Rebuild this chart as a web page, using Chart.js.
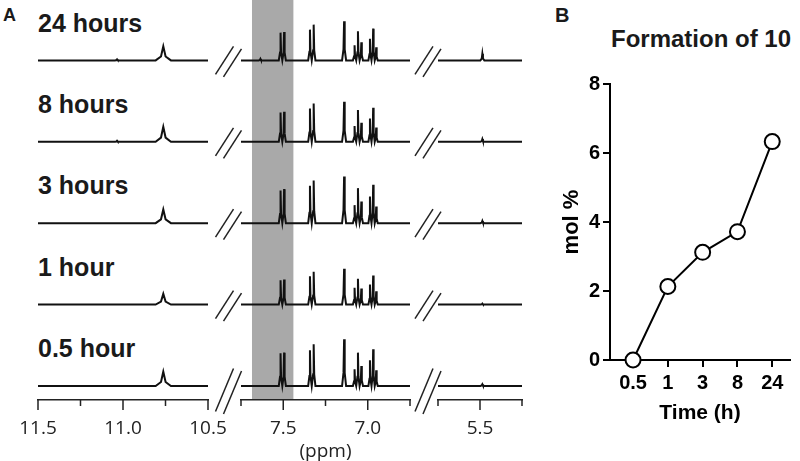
<!DOCTYPE html>
<html>
<head>
<meta charset="utf-8">
<script src="https://cdn.jsdelivr.net/npm/chart.js@4.4.0/dist/chart.umd.min.js"></script>
<style>
body { margin: 0; width: 800px; height: 461px; overflow: hidden; background: #fff; position: relative; font-family: "Liberation Sans", Arial, sans-serif; }
canvas { position: absolute; }
.lbl { position: absolute; font-weight: bold; font-size: 25px; line-height: 25px; color: #1a1a1a; white-space: nowrap; }
</style>
</head>
<body>
<div class="lbl" style="left:3px;top:6px;font-size:18px;line-height:18px">A</div>
<div class="lbl" style="left:555px;top:5px;font-size:20px;line-height:20px">B</div>
<div class="lbl" style="left:601px;top:27px;width:200px;text-align:center;font-size:24px;line-height:24px">Formation of 10</div>
<div id="traceNames"></div>

<canvas id="seg1" width="242" height="478" style="left:2px;top:-7px"></canvas>
<canvas id="seg2" width="241" height="478" style="left:205px;top:-7px"></canvas>
<canvas id="seg3" width="156" height="478" style="left:402px;top:-7px"></canvas>
<canvas id="molChart" width="260" height="461" style="left:540px;top:0px"></canvas>

<script>
// ---- panel A: 1H NMR, traces listed top to bottom ----
var traceLabels = ['24 hours', '8 hours', '3 hours', '1 hour', '0.5 hour'];

// peak positions (ppm)
var nhPeaks = [11.035, 10.763];
var aromaticPeaks = [7.635, 7.516, 7.495, 7.342, 7.320, 7.140, 7.078, 7.058, 7.038, 6.987, 6.968, 6.950];
var vinylPeaks = [5.486];

// base half widths of the peaks (ppm)
var nhWidths = [0.012, 0.045];
var aromaticWidths = [0.01, 0.0105, 0.0105, 0.0105, 0.0105, 0.012, 0.0098, 0.0098, 0.0098, 0.0092, 0.0092, 0.0092];
var vinylWidths = [0.012];

// peak heights for each trace (same order as traceLabels)
var nhHeights = [
  [1, 14],
  [1, 15],
  [0, 13.7],
  [0, 10.7],
  [0, 14.3]
];
var aromaticHeights = [
  [1.5, 27.7, 28.3, 30.7, 35.7, 39, 15, 29, 18, 21.7, 31.7, 13],
  [0, 29.3, 30, 33.3, 38.3, 40, 15.7, 31.7, 19, 23.3, 34, 14.3],
  [0, 32.7, 34, 37.3, 42.7, 46.7, 18, 35, 21.7, 26.7, 38.3, 16.7],
  [0, 24.3, 25, 28.3, 32.7, 35.7, 16.7, 25.7, 16, 20, 29, 13.3],
  [0, 32.7, 33.3, 35.7, 41.7, 46.7, 16.7, 33.3, 20, 25.7, 36.7, 15.7]
];
var vinylHeights = [[6.7], [2.7], [2.3], [1], [1.7]];

// shaded window (ppm)
var shadeFrom = 7.685;
var shadeTo = 7.44;

// ---- panel B ----
var timeLabels = ['0.5', '1', '3', '8', '24'];
var molPercent = [0, 2.13, 3.12, 3.72, 6.33];

function isHalf(v) {
  return Math.abs(v * 2 - Math.round(v * 2)) < 1e-6;
}

function buildTrace(seg, positions, heights, widths) {
  var pts = [{x: seg.max, y: 0}];
  for (var i = 0; i < positions.length; i++) {
    var p = positions[i], h = heights[i], w = widths[i];
    pts.push({x: p + w, y: 0});
    pts.push({x: p + w * 0.3, y: h * 0.28});
    pts.push({x: p, y: h});
    pts.push({x: p - w * 0.3, y: h * 0.28});
    pts.push({x: p - w, y: 0});
  }
  pts.push({x: seg.min, y: 0});
  return pts;
}

// tick marks under the ppm axis: long at 0.5 steps, short in between
var ppmTicks = {
  id: 'ppmTicks',
  afterDraw: function(chart) {
    var sx = chart.scales.x, ctx = chart.ctx;
    ctx.save();
    ctx.strokeStyle = '#222';
    ctx.lineWidth = 1.5;
    sx.ticks.forEach(function(t) {
      var px = sx.getPixelForValue(t.value);
      var len = isHalf(t.value) ? 10 : 6;
      ctx.beginPath();
      ctx.moveTo(px, sx.top);
      ctx.lineTo(px, sx.top + len);
      ctx.stroke();
    });
    ctx.restore();
  }
};

function drawBreaks(chart, cx) {
  var ctx = chart.ctx;
  ctx.save();
  ctx.strokeStyle = '#222';
  ctx.lineWidth = 1.5;
  for (var i = 0; i < traceLabels.length; i++) {
    var y0 = chart.scales['r' + i].getPixelForValue(0);
    var dy = 14;
    if (i == traceLabels.length - 1) {
      y0 = (y0 + chart.scales.x.top) / 2 - 3;
      dy = 21.5;
    }
    [[-4, 0], [4, 2.5]].forEach(function(o) {
      ctx.beginPath();
      ctx.moveTo(cx + o[0] - 9, y0 + o[1] + dy);
      ctx.lineTo(cx + o[0] + 9, y0 + o[1] - dy);
      ctx.stroke();
    });
  }
  ctx.restore();
}

function makeSegment(id, seg, positions, heights, widths, extra) {
  var scales = {
    x: {
      type: 'linear',
      reverse: true,
      min: seg.min,
      max: seg.max,
      afterFit: function(s) { s.height = 71; },
      grid: { display: false },
      border: { display: true, color: '#222', width: 1.5 },
      ticks: {
        stepSize: 0.25,
        autoSkip: false,
        maxRotation: 0,
        padding: 9,
        color: '#222',
        font: { family: 'Open Sans', size: 19 },
        callback: function(v) { return isHalf(v) ? v.toFixed(1) : ''; }
      },
      title: {
        display: !!seg.title,
        text: seg.title || '',
        color: '#222',
        font: { family: 'Open Sans', size: 19 },
        padding: { top: 0, bottom: 8 }
      }
    }
  };
  var datasets = [];
  traceLabels.forEach(function(name, i) {
    scales['r' + i] = {
      type: 'linear', display: false, position: 'right',
      stack: 'rows', stackWeight: 1, weight: i,
      min: -14, max: 67.3
    };
    datasets.push({
      label: name,
      yAxisID: 'r' + i,
      data: buildTrace(seg, positions, heights[i], widths),
      borderColor: '#111',
      borderWidth: 2,
      pointRadius: 0,
      tension: 0
    });
  });
  return new Chart(document.getElementById(id), {
    type: 'line',
    data: { datasets: datasets },
    options: {
      responsive: false,
      animation: false,
      layout: { padding: { left: 36, right: 36, top: 0, bottom: 0 } },
      plugins: { legend: { display: false }, tooltip: { enabled: false } },
      scales: scales
    },
    plugins: [ppmTicks].concat(extra || [])
  });
}

var shadePlugin = {
  id: 'shade',
  beforeDatasetsDraw: function(chart) {
    var sx = chart.scales.x, ctx = chart.ctx;
    var a = sx.getPixelForValue(shadeFrom), b = sx.getPixelForValue(shadeTo);
    ctx.save();
    ctx.fillStyle = '#a9a9a9';
    ctx.fillRect(a, 0, b - a, chart.chartArea.bottom - 1);
    ctx.restore();
  }
};

makeSegment('seg1', {min: 10.5, max: 11.5}, nhPeaks, nhHeights, nhWidths);
makeSegment('seg2', {min: 6.75, max: 7.75, title: '(ppm)'}, aromaticPeaks, aromaticHeights, aromaticWidths, [
  shadePlugin,
  { id: 'brk2', afterDraw: function(chart) { drawBreaks(chart, chart.chartArea.left - 12.5); } }
]);
makeSegment('seg3', {min: 5.25, max: 5.75}, vinylPeaks, vinylHeights, vinylWidths, [
  { id: 'brk3', afterDraw: function(chart) { drawBreaks(chart, chart.chartArea.left - 10); } }
]);

// trace names above each row
var names = document.getElementById('traceNames');
traceLabels.forEach(function(t, i) {
  var d = document.createElement('div');
  d.className = 'lbl';
  d.style.left = '38px';
  d.style.top = (10.7 + i * 81.3) + 'px';
  d.textContent = t;
  names.appendChild(d);
});

// ---- panel B chart ----
var boldFont = { family: 'Liberation Sans', weight: 'bold', size: 20 };
new Chart(document.getElementById('molChart'), {
  type: 'line',
  data: {
    datasets: [{
      label: 'mol %',
      data: molPercent.map(function(v, i) { return {x: i, y: v}; }),
      borderColor: '#000',
      borderWidth: 2,
      pointRadius: 7.5,
      pointBackgroundColor: '#fff',
      pointBorderColor: '#000',
      pointBorderWidth: 2,
      tension: 0,
      clip: false
    }]
  },
  options: {
    responsive: false,
    animation: false,
    layout: { padding: { left: 0, right: 10, top: 84, bottom: 0 } },
    plugins: { legend: { display: false }, tooltip: { enabled: false } },
    scales: {
      x: {
        type: 'linear',
        min: -0.662,
        max: 4.51,
        afterFit: function(s) { s.height = 101; },
        afterBuildTicks: function(s) {
          s.ticks = timeLabels.map(function(_, i) { return {value: i}; });
        },
        grid: { drawOnChartArea: false, tickLength: 7, color: '#000', lineWidth: 2 },
        border: { color: '#000', width: 2 },
        ticks: {
          autoSkip: false, maxRotation: 0, padding: 4, color: '#000', font: boldFont,
          callback: function(v) { return timeLabels[v]; }
        },
        title: {
          display: true, text: 'Time (h)', color: '#000',
          font: { family: 'Liberation Sans', weight: 'bold', size: 21 },
          padding: { top: 0, bottom: 35 }
        }
      },
      y: {
        min: 0,
        max: 8,
        afterFit: function(s) { s.width = 70; },
        grid: { drawOnChartArea: false, tickLength: 7, color: '#000', lineWidth: 2 },
        border: { color: '#000', width: 2 },
        ticks: { stepSize: 2, padding: 3, color: '#000', font: boldFont },
        title: {
          display: true, text: 'mol %', color: '#000',
          font: { family: 'Liberation Sans', weight: 'bold', size: 22 },
          padding: { top: 19, bottom: 0 }
        }
      }
    }
  }
});
</script>
</body>
</html>
